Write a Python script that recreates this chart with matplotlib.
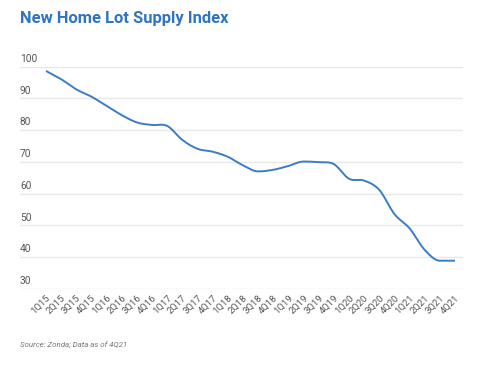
import matplotlib
matplotlib.use('Agg')
import matplotlib.pyplot as plt
import numpy as np

plt.rcParams['font.family'] = ['Roboto', 'DejaVu Sans']

quarters = ['1Q15', '2Q15', '3Q15', '4Q15', '1Q16', '2Q16', '3Q16', '4Q16',
            '1Q17', '2Q17', '3Q17', '4Q17', '1Q18', '2Q18', '3Q18', '4Q18',
            '1Q19', '2Q19', '3Q19', '4Q19', '1Q20', '2Q20', '3Q20', '4Q20',
            '1Q21', '2Q21', '3Q21', '4Q21']
index_values = [98.6, 96.0, 92.8, 90.5, 87.6, 84.7, 82.4, 81.6,
                81.3, 76.9, 74.1, 73.2, 71.6, 68.9, 67.0, 67.5,
                68.7, 70.1, 69.9, 69.3, 64.7, 64.1, 61.2, 53.6,
                49.1, 42.3, 38.9, 38.9]
y_ticks = [30, 40, 50, 60, 70, 80, 90, 100]


def smooth(xs, ys, n=12):
    # spline through the points, only for drawing; local extremes get flat tangents
    xs = np.asarray(xs, float)
    ys = np.asarray(ys, float)
    m = np.zeros_like(ys)
    for i in range(1, len(ys) - 1):
        d1 = ys[i] - ys[i - 1]
        d2 = ys[i + 1] - ys[i]
        if d1 * d2 > 0:
            m[i] = (ys[i + 1] - ys[i - 1]) / 2
    m[0] = ys[1] - ys[0]
    m[-1] = ys[-1] - ys[-2]
    out_x, out_y = [], []
    t = np.linspace(0, 1, n, endpoint=False)
    h00 = 2 * t**3 - 3 * t**2 + 1
    h10 = t**3 - 2 * t**2 + t
    h01 = -2 * t**3 + 3 * t**2
    h11 = t**3 - t**2
    for i in range(len(ys) - 1):
        out_x.extend(xs[i] + t * (xs[i + 1] - xs[i]))
        out_y.extend(h00 * ys[i] + h10 * m[i] + h01 * ys[i + 1] + h11 * m[i + 1])
    out_x.append(xs[-1])
    out_y.append(ys[-1])
    return np.array(out_x), np.array(out_y)


fig = plt.figure(figsize=(4.9, 3.66), dpi=100)
ax = fig.add_axes([20 / 490, 1 - 289 / 366, 443 / 490, 222.5 / 366])

x = np.arange(len(quarters))
sx, sy = smooth(x, index_values)
ax.plot(sx, sy, color='#3a7cc6', linewidth=1.4, solid_capstyle='butt', zorder=3)

ax.set_xlim(-1.72, 27.53)
ax.set_ylim(30, 100)
for v in y_ticks:
    ax.axhline(v, color='#e8e8e8', linewidth=1, zorder=1)
    ax.annotate(str(v), xy=(0, v), xycoords=('axes fraction', 'data'),
                xytext=(0, 2), textcoords='offset points',
                ha='left', va='bottom', fontsize=7.3, color='#555555')

ax.set_xticks(x)
ax.set_xticklabels(quarters, rotation=45, ha='right', rotation_mode='anchor',
                   fontsize=6.8, color='#555555')
ax.tick_params(axis='x', length=0, pad=3)
ax.set_yticks([])
for s in ax.spines.values():
    s.set_visible(False)

fig.text(20 / 490, 1 - 19 / 366, 'New Home Lot Supply Index', fontsize=11.9,
         fontweight='bold', color='#2f74c0', ha='left', va='center')
fig.text(20 / 490, 1 - 345 / 366, 'Source: Zonda; Data as of 4Q21', fontsize=5.7,
         style='italic', color='#777777', ha='left', va='center')

fig.savefig('out.png', dpi=100)
